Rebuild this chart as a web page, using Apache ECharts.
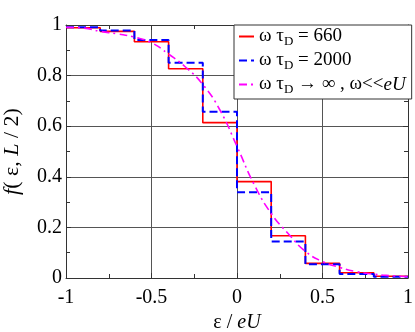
<!DOCTYPE html>
<html>
<head>
<meta charset="utf-8">
<script src="https://cdn.jsdelivr.net/npm/echarts@6/dist/echarts.min.js"></script>
<style>
html, body { margin: 0; padding: 0; background: #fff; }
#chart { width: 415px; height: 332px; }
</style>
</head>
<body>
<div id="chart"></div>
<script>
// bin edges in eps/eU, one value per bin
var binEdges = [-1, -0.8, -0.6, -0.4, -0.2, 0, 0.2, 0.4, 0.6, 0.8, 1];
var f660 = [0.989, 0.975, 0.934, 0.827, 0.614, 0.381, 0.167, 0.058, 0.021, 0.007];
var f2000 = [0.991, 0.978, 0.941, 0.851, 0.657, 0.339, 0.144, 0.054, 0.016, 0.005];
// limit omega*tau_D -> infinity
var curveX = [-1, -0.9, -0.8, -0.7, -0.6, -0.5, -0.4, -0.3, -0.2, -0.1, 0,
              0.1, 0.2, 0.3, 0.4, 0.5, 0.6, 0.7, 0.8, 0.9, 1];
var curveY = [0.991, 0.988, 0.975, 0.965, 0.952, 0.93, 0.885, 0.833, 0.765, 0.664, 0.52,
              0.37, 0.255, 0.175, 0.105, 0.065, 0.042, 0.025, 0.015, 0.009, 0.005];
var xTicks = ['-1', '-0.5', '0', '0.5', '1'];
var yTicks = ['0', '0.2', '0.4', '0.6', '0.8', '1'];

function stepData(vals) {
    var d = [];
    for (var i = 0; i < vals.length; i++) d.push([binEdges[i], vals[i]]);
    d.push([binEdges[binEdges.length - 1], vals[vals.length - 1]]);
    return d;
}
function pairs(xs, ys) {
    return xs.map(function (x, i) { return [x, ys[i]]; });
}

var serif = 'Liberation Serif';
var chart = echarts.init(document.getElementById('chart'));

var legendText = {
    'w660': '{t|ω τ}{s|D}{t| = 660}',
    'w2000': '{t|ω τ}{s|D}{t| = 2000}',
    'winf': '{t|ω τ}{s|D}{t| → ∞ , ω<<}{i|eU}'
};

function frameAxis(pos, interval, isX) {
    return {
        type: 'value',
        position: pos,
        min: isX ? -1 : 0,
        max: 1,
        interval: interval,
        axisLine: { show: true, onZero: false, lineStyle: { color: '#333', width: 1 } },
        axisTick: { show: true, inside: true, length: 5, lineStyle: { color: '#333' } },
        minorTick: { show: true, splitNumber: 2, length: 4, lineStyle: { color: '#333' } },
        axisLabel: { show: false },
        splitLine: { show: false }
    };
}

var option = {
    animation: false,
    grid: { left: 66, right: 7, top: 25, bottom: 54, show: false, containLabel: false, outerBoundsMode: 'none' },
    legend: {
        orient: 'vertical',
        left: 234,
        top: 25,
        itemWidth: 15,
        itemHeight: 10,
        itemGap: 3,
        padding: [2, 6, 3, 4],
        backgroundColor: '#fff',
        borderColor: '#333',
        borderWidth: 1,
        borderRadius: 0,
        itemStyle: { opacity: 0 },
        formatter: function (name) { return legendText[name]; },
        textStyle: {
            rich: {
                t: { fontFamily: serif, fontSize: 19, color: '#000' },
                i: { fontFamily: serif, fontSize: 19, fontStyle: 'italic', color: '#000' },
                s: { fontFamily: serif, fontSize: 13, color: '#000', padding: [10, 0, 0, 0] }
            }
        },
        data: ['w660', 'w2000', 'winf']
    },
    xAxis: [{
        type: 'value',
        min: -1,
        max: 1,
        interval: 0.5,
        name: '{n|ε / }{i|eU}',
        nameLocation: 'middle',
        nameGap: 35,
        nameTextStyle: {
            rich: {
                n: { fontFamily: serif, fontSize: 20, color: '#000' },
                i: { fontFamily: serif, fontSize: 20, fontStyle: 'italic', color: '#000' }
            }
        },
        axisLine: { show: true, onZero: false, lineStyle: { color: '#333', width: 1 } },
        axisTick: { show: true, inside: true, length: 5, lineStyle: { color: '#333' } },
        minorTick: { show: true, splitNumber: 2, length: 4, lineStyle: { color: '#333' } },
        axisLabel: {
            margin: 10,
            fontFamily: serif,
            fontSize: 20,
            color: '#000',
            formatter: function (v) { return xTicks[Math.round((v + 1) * 2)]; }
        },
        splitLine: { show: true, lineStyle: { color: '#555', width: 1 } }
    }, frameAxis('top', 0.5, true)],
    yAxis: [{
        type: 'value',
        min: 0,
        max: 1,
        interval: 0.2,
        name: '{i|f}{n|( ε, }{i|L}{n| / 2)}',
        nameLocation: 'middle',
        nameGap: 43,
        nameTextStyle: {
            rich: {
                n: { fontFamily: serif, fontSize: 22, color: '#000' },
                i: { fontFamily: serif, fontSize: 22, fontStyle: 'italic', color: '#000' }
            }
        },
        axisLine: { show: true, onZero: false, lineStyle: { color: '#333', width: 1 } },
        axisTick: { show: true, inside: true, length: 5, lineStyle: { color: '#333' } },
        minorTick: { show: true, splitNumber: 2, length: 4, lineStyle: { color: '#333' } },
        axisLabel: {
            margin: 4,
            fontFamily: serif,
            fontSize: 20,
            color: '#000',
            formatter: function (v) { return yTicks[Math.round(v * 5)]; }
        },
        splitLine: { show: true, lineStyle: { color: '#555', width: 1 } }
    }, frameAxis('right', 0.2, false)],
    series: [{
        name: 'w660',
        type: 'line',
        step: 'end',
        symbol: 'none',
        data: stepData(f660),
        lineStyle: { color: '#ff0000', width: 1.6 },
        itemStyle: { color: '#ff0000' },
        z: 3
    }, {
        name: 'w2000',
        type: 'line',
        step: 'end',
        symbol: 'none',
        data: stepData(f2000),
        lineStyle: { color: '#0000ff', width: 2, type: [8, 4] },
        itemStyle: { color: '#0000ff' },
        z: 4
    }, {
        name: 'winf',
        type: 'line',
        smooth: true,
        symbol: 'none',
        data: pairs(curveX, curveY),
        lineStyle: { color: '#ff00ff', width: 1.6, type: [8, 4, 2, 4] },
        itemStyle: { color: '#ff00ff' },
        z: 5
    }]
};
chart.setOption(option);
</script>
</body>
</html>
